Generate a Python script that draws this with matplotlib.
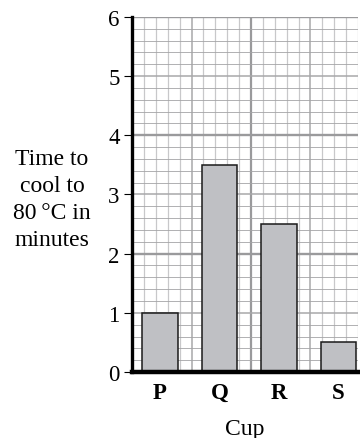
import matplotlib.pyplot as plt
import numpy as np

cups = ["P", "Q", "R", "S"]
minutes = [1.0, 3.5, 2.5, 0.5]
y_ticks = [0, 1, 2, 3, 4, 5, 6]

plt.rcParams['font.family'] = ['Liberation Serif', 'DejaVu Serif']

fig = plt.figure(figsize=(3.6, 4.39), dpi=100)
ax = fig.add_axes([0.3667, 0.1503, 0.628, 0.809])

x_left, x_right = -0.47, 3.33
ax.set_xlim(x_left, x_right)
ax.set_ylim(0, 6)

# graph paper: small squares of 0.2, medium every 5, heavy every 10
for k in range(0, 21):
    xv = x_left + k * 0.2
    if k % 10 == 0:
        ax.axvline(xv, color='#9a9a9c', lw=1.6, zorder=1)
    elif k % 5 == 0:
        ax.axvline(xv, color='#a8a8aa', lw=1.1, zorder=1)
    else:
        ax.axvline(xv, color='#c8c8ca', lw=0.9, zorder=1)
for k in range(0, 31):
    yv = k * 0.2
    if k % 10 == 0:
        ax.axhline(yv, color='#9a9a9c', lw=1.7, zorder=1)
    elif k % 5 == 0:
        ax.axhline(yv, color='#a8a8aa', lw=1.1, zorder=1)
    else:
        ax.axhline(yv, color='#a4a4a6', lw=0.6, zorder=1)

ax.bar(np.arange(len(cups)), minutes, width=0.59, color='#bfc0c4',
       edgecolor='#1a1a1a', linewidth=1.1, zorder=3)

for side in ['top', 'right']:
    ax.spines[side].set_visible(False)
ax.spines['left'].set_linewidth(2.4)
ax.spines['bottom'].set_linewidth(3.2)
ax.spines['left'].set_zorder(4)
ax.spines['bottom'].set_zorder(4)

ax.set_yticks(y_ticks)
ax.set_yticklabels([str(t) for t in y_ticks], fontsize=16.5)
ax.tick_params(axis='y', length=6, width=0.8, pad=3)
ax.set_xticks(np.arange(len(cups)))
ax.set_xticklabels(cups, fontsize=16.5, fontweight='bold')
ax.tick_params(axis='x', length=0, pad=7)

ax.set_xlabel("Cup", fontsize=17, labelpad=11)
fig.text(52 / 360, 1 - 200 / 439, "Time to\ncool to\n80\u2009°C in\nminutes",
         ha='center', va='center', fontsize=17, linespacing=1.38)

plt.savefig("out.png")
